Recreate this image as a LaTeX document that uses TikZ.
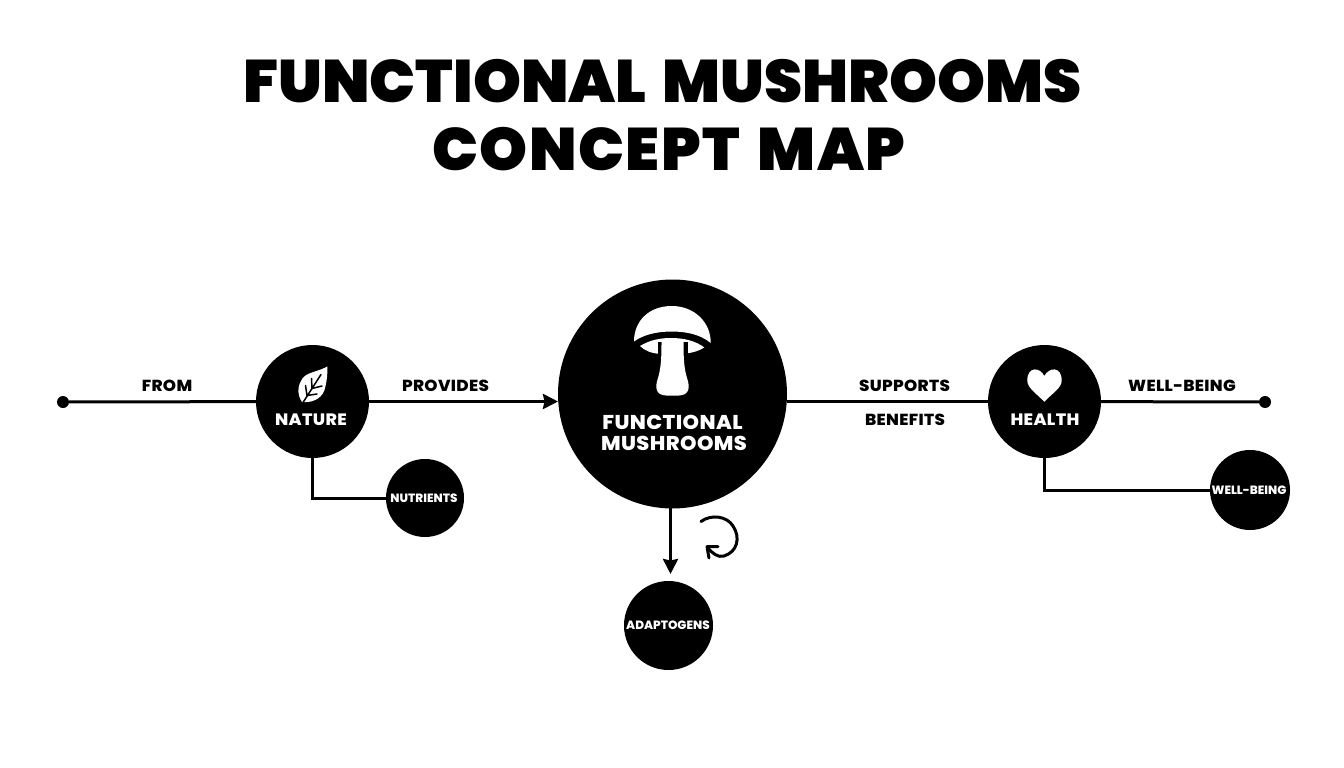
\documentclass[tikz,border=0pt]{standalone}
\usepackage{fontspec}
\setmainfont{Poppins}
\newfontfamily\blk{Poppins}[UprightFont=* ExtraBold,BoldFont=* ExtraBold]
\newfontfamily\blktone{Poppins}[UprightFont=* Black,BoldFont=* Black,FakeStretch=1.017,WordSpace=1.5]
\newfontfamily\blkttwo{Poppins}[UprightFont=* Black,BoldFont=* Black,FakeStretch=1.017,LetterSpace=2.5,WordSpace=1.5]
\newfontfamily\blkw{Poppins}[UprightFont=* ExtraBold,BoldFont=* ExtraBold,FakeStretch=1.05,LetterSpace=2]
\usetikzlibrary{arrows.meta}
\definecolor{ink}{HTML}{000000}
\tikzset{
  x=1pt,y=-1pt,
  disc/.style={circle,fill=ink,inner sep=0pt,outer sep=0pt,minimum size=#1},
  dotend/.style={circle,fill=ink,inner sep=0pt,outer sep=0pt,minimum size=12pt},
  link/.style={draw=ink,line width=3pt},
  tipped/.style={link,-{Stealth[length=15pt,width=15pt,inset=1.5pt]}},
  titleone/.style={inner sep=0pt,text=ink,font=\blktone\fontsize{60}{60}\selectfont},
  titletwo/.style={inner sep=0pt,text=ink,font=\blkttwo\fontsize{60}{60}\selectfont},
  edgetext/.style={inner sep=0pt,text=ink,font=\blkw\fontsize{16}{16}\selectfont},
  midtext/.style={inner sep=0pt,text=white,font=\blkw\fontsize{16.5}{17}\selectfont},
  maintext/.style={inner sep=0pt,text=white,font=\blkw\fontsize{20}{20}\selectfont},
  smalltext/.style={inner sep=0pt,text=white,font=\blk\fontsize{12}{12}\selectfont},
}
\begin{document}
\begin{tikzpicture}
\useasboundingbox (0,0) rectangle (1344,768);
\fill[white] (0,0) rectangle (1344,768);
% title
\node[titleone] (t1) at (662.5,81.5) {FUNCTIONAL MUSHROOMS};
\node[titletwo] (t2) at (669,149) {CONCEPT MAP};
% nodes
\node[disc=229pt] (main) at (672.5,394) {};
\node[disc=113pt] (nature) at (312.5,401.5) {};
\node[disc=113pt] (health) at (1044.5,401.5) {};
\node[disc=78pt] (nutrients) at (425,498) {};
\node[disc=80pt] (wellbeing) at (1250,490) {};
\node[disc=89pt] (adaptogens) at (668.5,625.5) {};
\node[dotend] (start) at (63,402) {};
\node[dotend] (finish) at (1265,402) {};
% connectors
\draw[link] (start) -- (nature);
\draw[tipped] (nature.east) -- (main.west |- nature);
\draw[link] (main.east |- health) -- (health.west);
\draw[link] (health) -- (finish);
\draw[link] (nature.south) |- (nutrients.west);
\draw[link] (health.south) |- (wellbeing.west);
\coordinate (dropa) at (670.5,507);
\draw[tipped,shorten >=7pt] (dropa) -- (dropa |- adaptogens.north);
% circular arrow
\draw[draw=ink,line width=3pt,line cap=round,line join=round]
  (701,521.5) .. controls (711,514) and (727,516) .. (733,526)
  .. controls (741,538) and (737,552) .. (724,556)
  .. controls (718,558) and (712,553) .. (707.5,547.5);
\draw[draw=ink,line width=3pt,line cap=round,line join=round]
  (718,546.7) -- (707,546.7) -- (709,558);
% mushroom
\fill[white] (634,341.5) .. controls (634,320) and (650,306) .. (671.7,306)
  .. controls (694,306) and (711,322) .. (710.7,343)
  .. controls (700,334) and (685,331.5) .. (671.7,331.5)
  .. controls (656,331.5) and (643,335) .. (634,341.5) -- cycle;
\fill[white] (640,346) .. controls (650,340) and (660,338) .. (671,338)
  .. controls (684,338) and (696,341) .. (704.3,347.5)
  .. controls (699,351) and (693,352.5) .. (684,354) -- (660,354)
  .. controls (651,353) and (645,351) .. (640,346) -- cycle;
\fill[ink] (657.5,342) rectangle (687.5,356);
\fill[white] (661.5,342) -- (683.5,342)
  .. controls (683.5,358) and (684,368) .. (687,378)
  .. controls (690.5,388) and (689,395) .. (679,395.5)
  -- (666,395.5) .. controls (656,395) and (654.5,388) .. (658,378)
  .. controls (661,368) and (661.5,358) .. (661.5,342) -- cycle;
% leaf
\fill[white] (327.5,366.5) .. controls (315,373) and (305,372) .. (301,381)
  .. controls (297,388) and (297.5,395) .. (302,402)
  .. controls (310,403) and (321,400) .. (324.5,390)
  .. controls (327,381) and (327.5,374) .. (327.5,366.5) -- cycle;
\draw[draw=ink,line width=1.5pt,line cap=round]
  (303,402.5) -- (321,374.5)
  (312,388.5) -- (311.5,378.5)
  (307,395.5) -- (305.5,385.5)
  (312,388.5) -- (322,386)
  (307,395.5) -- (317,394);
% heart
\fill[white] (1044.3,401.8) .. controls (1036,393) and (1027.3,388) .. (1027.3,380.5)
  .. controls (1027.3,366) and (1040,367) .. (1044.3,376)
  .. controls (1049,367) and (1061.7,366) .. (1061.7,380.5)
  .. controls (1061.7,388) and (1052.5,393) .. (1044.3,401.8) -- cycle;
% labels
\node[edgetext] (lfrom) at (167,385.5) {FROM};
\node[edgetext] (lprov) at (445.5,385.5) {PROVIDES};
\node[edgetext] (lsupp) at (904.5,385.5) {SUPPORTS};
\node[edgetext] (lben) at (905,420) {BENEFITS};
\node[edgetext] (lwell) at (1182,385.5) {WELL-BEING};
\node[midtext] (lnat) at (311,419.5) {NATURE};
\node[midtext] (lhea) at (1045,419.5) {HEALTH};
\node[maintext] (lm1) at (672.5,422) {FUNCTIONAL};
\node[maintext] (lm2) at (674,443) {MUSHROOMS};
\node[smalltext] (lnut) at (424,498) {NUTRIENTS};
\node[smalltext] (lwb) at (1249,490.5) {WELL-BEING};
\node[smalltext] (lada) at (668,625.5) {ADAPTOGENS};
\end{tikzpicture}
\end{document}
